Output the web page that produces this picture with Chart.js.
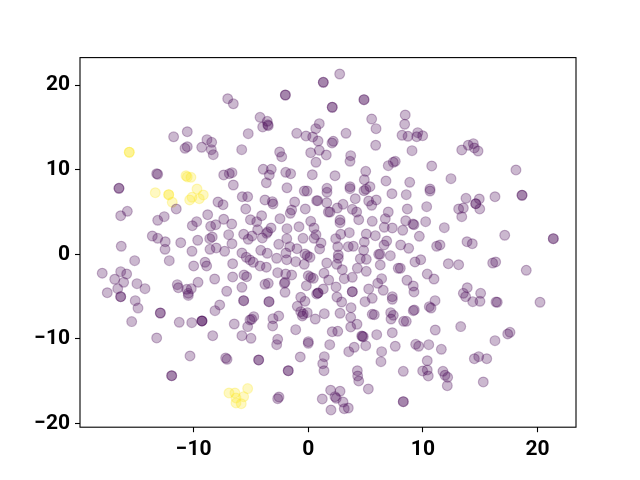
<!DOCTYPE html>
<html>
<head>
<meta charset="utf-8">
<style>
  html, body { margin: 0; background: #fff; }
  canvas { display: block; }
</style>
<script src="https://cdn.jsdelivr.net/npm/chart.js@4"></script>
</head>
<body>
<canvas id="myChart" width="640" height="480"></canvas>
<script>
const xTicks = [-10, 0, 10, 20]
const yTicks = [-20, -10, 0, 10, 20]
const xLimits = [-19.92, 23.36]
const yLimits = [-20.43, 23.26]

// points written twice are the darker spots
const yellowPoints = [
  [-15.62,12.07],[-15.62,12.07],[-10.67,9.3],[-10.56,9.15],[-10.24,9.11],[-9.71,7.73],[-13.35,7.29],
  [-12.18,7.06],[-12.18,7.06],[-11.87,6.16],[-9.16,7.02],[-10.15,6.75],[-10.35,6.43],[-9.51,6.58],
  [-6.92,-16.38],[-6.4,-16.38],[-5.29,-15.87],[-5.64,-16.82],[-6.31,-16.97],[-6.31,-17.56],[-5.85,-17.65]
]

const purplePoints = [
  [-7.03,18.4],[-6.54,17.8],[-5.24,14.27],[-10.56,14.5],[-11.75,13.9],[-8.84,13.56],[-8.43,13.25],[-10.56,12.73],
  [-10.76,12.54],[-9.3,12.66],[-8.46,12.38],[-8.29,11.79],[-5.81,12.38],[-13.23,9.54],[-13.14,9.47],[-7.38,9.39],
  [-6.89,9.54],[-6.66,9.66],[-6.54,8.2],[-16.52,7.81],[-16.52,7.81],[-5.76,6.82],[-5.29,6.82],[-7.88,6.19],
  [-7.44,5.87],[-5.46,5.37],[-11.52,5.37],[-15.79,5.09],[-16.37,4.57],[-12.57,4.46],[-13.14,4.03],[-8.78,4.69],
  [-9.74,3.87],[-10.12,3.39],[-7.38,4.15],[-8.08,3.51],[-8.52,3.32],[-6.68,3.59],[-5.05,4.1],[-13.61,2.17],
  [-13.14,1.9],[-12.48,1.5],[-11.13,1.38],[-9.65,1.67],[-8.38,2.06],[-8.6,1.86],[-6.95,2.33],[-5.64,2.38],
  [-5.24,1.78],[-6.66,1.26],[-16.32,0.96],[-12.5,0.6],[-10.15,0.37],[-8.58,0.6],[-8.03,0.76],[-7.3,0.37],
  [-5.79,0.17],[-5.41,-0.34],[-5.09,-0.66],[-15.15,-0.74],[-12.13,-0.74],[-9.01,-0.93],[-8.87,-1.37],[-10,-1.37],
  [-6.6,-1.1],[-17.98,-2.23],[-16.37,-2.04],[-15.85,-2.32],[-16.89,-2.94],[-16.11,-3.3],[-14.95,-3.46],[-14.25,-4.05],
  [-16.63,-4.05],[-17.54,-4.53],[-16.37,-5],[-16.37,-5],[-11.43,-3.58],[-11.34,-3.94],[-10.61,-4.13],[-10.21,-4.05],
  [-10.47,-4.6],[-10.47,-4.85],[-9.62,-3.3],[-8.17,-2.91],[-6.6,-2.67],[-5.61,-2.43],[-5.38,-2.64],[-5.79,-3.89],
  [-7.12,-4.36],[-15.1,-5.47],[-14.86,-6.35],[-5.64,-5.47],[-5.64,-5.47],[-7.73,-5.98],[-8.14,-6.65],[-15.41,-7.95],
  [-12.91,-6.93],[-12.91,-6.93],[-11.26,-8.03],[-10.17,-8.07],[-9.28,-7.87],[-9.28,-7.87],[-9.28,-7.87],[-6.46,-8.23],
  [-5.29,-8.54],[-5.09,-7.75],[-8.34,-9.61],[-5.79,-9.61],[-5,-9.92],[-13.23,-9.88],[-10.32,-12.01],[-7.21,-12.25],
  [-7.09,-12.4],[-11.92,-14.34],[-11.92,-14.34],
  [2.74,21.32],[1.31,20.34],[1.31,20.34],[-2,18.84],[-2,18.84],[4.86,18.29],[4.86,18.29],[2.09,17.39],
  [2.09,17.39],[-4.21,16.2],[-3.58,15.73],[-3.98,15.06],[-3.54,15.33],[-3.49,15.21],[5.53,16],[5.91,14.86],
  [8.46,16.48],[8.41,15.38],[0.96,15.45],[0.65,14.86],[-1.01,14.31],[-0.2,14],[0.38,13.88],[0.85,13.4],
  [3.29,14.31],[2.18,13.37],[2.07,13.17],[8.18,14.08],[8.7,13.96],[9.05,12.26],[5.88,12.9],[-2.5,12.1],
  [-2.32,11.55],[0.96,12.3],[0.21,12.02],[1.57,11.75],[3.7,11.67],[3.64,11],[0.67,10.89],[7.59,11],
  [7.42,10.89],[6.98,10.49],[-3.93,10.06],[-3.23,10.06],[-3.4,9.39],[-1.97,9.7],[-1.54,9.54],[0.35,9.42],
  [2.33,9.3],[5.01,9.82],[4.89,8.83],[6.78,8.68],[8.85,8.52],[-3.66,8.46],[-1.86,7.87],[-0.35,7.49],
  [-0.11,7.49],[1.63,7.81],[1.63,7.34],[3.64,8],[3.64,7.77],[4.86,7.53],[5.03,7.69],[5.38,8],
  [7.3,7.17],[8.55,7.06],[-3.78,6.43],[-3.14,6.23],[-3.08,5.96],[-1.19,6.19],[-1.45,5.25],[-1.57,4.86],
  [-0.26,5.37],[0.73,6.35],[0.82,6.35],[1.61,6.11],[3.03,5.92],[2.53,5.48],[1.75,5.01],[1.89,5.01],
  [4.1,6.58],[5.27,6.31],[5.93,6.43],[5.53,5.8],[3.84,5.33],[4.22,5.01],[4.4,4.1],[6.98,5.01],
  [8.64,5.37],[6.72,4.22],[5.58,3.91],[8.5,3.98],[6.63,3.2],[7.33,3.12],[8.24,2.85],[-4.07,4.57],
  [-4.5,3.87],[-2.47,4.22],[0.21,3.91],[2.77,4.07],[2.77,3.75],[-1.86,3.04],[-0.81,3.27],[0.5,3.12],
  [-4.42,2.92],[-3.25,3.12],[-3.54,2.68],[-3.63,2.49],[-4.91,2.17],[-4.01,1.94],[-1.88,1.86],[-0.46,1.9],
  [0.67,2.33],[0.5,1.9],[2.83,2.38],[3.58,2.57],[2.39,1.86],[5.06,2.41],[5.85,2.21],[6.84,1.58],
  [6.61,1.11],[4.89,1.47],[1.11,1.35],[0.99,0.64],[-2.58,1.19],[-1.62,0.91],[-0.99,0.67],[-1.95,0.17],
  [-4.15,0.48],[-3.58,0.13],[-2.76,-0.46],[-1.88,-0.63],[-1.1,-0.86],[-0.35,-1.17],[-0.29,0.05],[-0.09,-0.15],
  [0.15,-0.34],[1.61,-1.02],[2.57,0.91],[3.49,0.91],[3.93,0.96],[2.62,-0.07],[2.62,-0.46],[2.48,-1.17],
  [2.97,-1.81],[4.83,0.48],[4.54,-0.51],[5.06,-0.58],[6.14,0.01],[6.26,0.01],[7.16,-0.15],[8.06,1.11],
  [8.76,0.72],[6.28,-1.25],[4.28,-1.64],[5.06,-2],[7.85,-1.64],[8.03,-1.64],[-4.8,-0.93],[-4.21,-1.37],
  [-3.66,-1.52],[-2.67,-2.16],[-1.97,-2.32],[-1.45,-2.43],[-2.09,-3.42],[-2.03,-3.3],[-2.03,-4.48],[0,-2.52],
  [0.21,-2.71],[0.44,-2.83],[1.37,-2.23],[1.78,-3.03],[3.14,-2.87],[3.84,-2.71],[6.4,-2.87],[6.06,-3.42],
  [6.54,-4.24],[8.61,-3.06],[5.27,-4.09],[2.42,-3.85],[1.31,-4.09],[0.85,-4.56],[0.85,-4.56],[0.73,-4.68],
  [-0.17,-3.7],[3.84,-4.41],[3.84,-4.41],[2.5,-5.04],[2.91,-5.63],[7.33,-5],[7.33,-5.31],[5.58,-5.19],
  [4.95,-5.59],[-3.43,-5.59],[-3.43,-5.59],[-3.78,-3.54],[-3.49,-3.42],[-0.66,-5.07],[-0.29,-5.55],[-0.96,-6.14],
  [3.73,-6.3],[-4.76,-7.36],[-4.94,-7.67],[-3.08,-7.6],[-2.58,-7.28],[-3.11,-8.46],[-2.67,-10.04],[-2.76,-10.67],
  [-1.1,-8.9],[-0.66,-6.77],[-0.44,-7.05],[-0.09,-6.89],[-0.52,-7.28],[0.61,-7.64],[1.4,-7.01],[2.77,-6.96],
  [3.7,-7.44],[4.25,-8.26],[3.7,-8.58],[2.09,-9.14],[2.57,-9.09],[5.58,-7.08],[5.76,-7.13],[7.19,-6.89],
  [7.42,-7.2],[7.22,-7.64],[8.32,-7.91],[8.55,-7.91],[9.16,-6.65],[4.66,-9.65],[4.8,-9.73],[4.72,-9.69],
  [5.97,-9.49],[7.33,-9.26],[0,-10.32],[0,-10.51],[1.87,-10.67],[4.01,-10.98],[3.53,-11.5],[5.01,-10.79],
  [7.59,-10.86],[6.4,-11.5],[6.34,-12.68],[-0.7,-12.13],[1.4,-12.09],[1.26,-12.92],[1.37,-13.75],[-4.33,-12.48],
  [-4.33,-12.48],[-1.75,-13.75],[-1.75,-13.75],[8.29,-13.82],[4.28,-13.75],[4.31,-14.37],[4.4,-14.96],[5.24,-15.91],
  [1.95,-16.06],[2.77,-16.18],[2.33,-16.82],[2.44,-17.01],[1.22,-17.09],[3.03,-17.45],[3.14,-18.24],[3.49,-18.16],
  [1.98,-18.39],[-2.56,-16.86],[-2.67,-17.06],[8.29,-17.41],[8.29,-17.41],
  [9.55,14.39],[9.46,13.91],[9.98,14.03],[10.77,10.45],[12.45,8.95],[10.62,7.73],[13.39,12.34],[13.96,12.9],
  [14.4,13.09],[14.49,12.58],[14.81,12.22],[18.12,9.98],[10.62,7.49],[13.76,6.63],[14.92,6.55],[16.29,6.82],
  [18.65,6.99],[18.65,6.99],[14.61,5.99],[14.61,5.99],[13.12,5.37],[13.53,5.48],[14.96,5.37],
  [10.33,5.64],[13.39,4.46],[10.24,3.87],[9.22,3.51],[9.13,3.59],[11.87,3.16],[9.69,2.14],[17.14,2.26],
  [21.38,1.86],[21.38,1.86],[13.85,1.5],[14.31,1.26],[11.2,0.96],[11.49,1.11],[9.31,-0.9],[9.81,-0.63],
  [12.22,-1.1],[13.12,-1.22],[16.09,-1.02],[16.35,-0.9],[19.02,-1.88],[10.38,-2.33],[10.97,-2.91],[9.16,-3.74],
  [9.22,-4.44],[13.87,-3.94],[13.53,-4.6],[13.73,-5],[15.04,-4.6],[14.35,-5.59],[14.98,-5.55],[16.38,-5.63],
  [16.49,-5.66],[20.22,-5.66],[11.06,-5.47],[10.56,-6.18],[10.71,-6.34],[9.25,-6.57],[11.08,-8.94],[13.3,-8.54],
  [17.6,-9.21],[17.4,-9.41],[16.29,-10.2],[9.37,-10.63],[9.63,-10.86],[10.51,-10.67],[11.61,-11.22],[10.38,-12.57],
  [14.49,-12.33],[14.87,-12.09],[15.57,-12.33],[9.98,-13.78],[10.38,-13.66],[10.47,-14.37],[11.75,-13.82],[11.93,-14.29],
  [12.16,-14.53],[12.13,-15.52],[15.27,-15.08]
]

const toXY = p => ({ x: p[0], y: p[1] })
const minusSign = v => String(v).replace('-', '\u2212')

const frame = {
  id: 'frame',
  afterDraw(chart) {
    const { ctx, chartArea: a } = chart
    ctx.save()
    ctx.strokeStyle = '#000'
    ctx.lineWidth = 1.1
    ctx.strokeRect(a.left, a.top, a.right - a.left, a.bottom - a.top)
    ctx.restore()
  }
}

const tickFont = { family: 'Roboto', size: 21, weight: '700' }

new Chart(document.getElementById('myChart'), {
  type: 'scatter',
  data: {
    datasets: [{
      data: purplePoints.map(toXY),
      backgroundColor: 'rgba(68,1,84,0.28)',
      borderColor: 'rgba(68,1,84,0.28)'
    }, {
      data: yellowPoints.map(toXY),
      backgroundColor: 'rgba(253,231,37,0.28)',
      borderColor: 'rgba(253,231,37,0.28)'
    }]
  },
  options: {
    responsive: false,
    animation: false,
    layout: { padding: { top: 57.6, right: 64 } },
    elements: { point: { radius: 4.9, borderWidth: 1.2 } },
    plugins: { legend: { display: false }, tooltip: { enabled: false } },
    scales: {
      x: {
        type: 'linear',
        min: xLimits[0],
        max: xLimits[1],
        afterBuildTicks: s => { s.ticks = xTicks.map(v => ({ value: v })) },
        afterFit: s => { s.height = 52.8 },
        grid: { drawOnChartArea: false, color: '#000', tickLength: 5, tickWidth: 1.1 },
        border: { display: false },
        ticks: { color: '#000', font: tickFont, padding: 5, maxRotation: 0, autoSkip: false, callback: minusSign }
      },
      y: {
        min: yLimits[0],
        max: yLimits[1],
        afterBuildTicks: s => { s.ticks = yTicks.map(v => ({ value: v })) },
        afterFit: s => { s.width = 80 },
        grid: { drawOnChartArea: false, color: '#000', tickLength: 5, tickWidth: 1.1 },
        border: { display: false },
        ticks: { color: '#000', font: tickFont, padding: 5, autoSkip: false, callback: minusSign }
      }
    }
  },
  plugins: [frame]
})
</script>
</body>
</html>
